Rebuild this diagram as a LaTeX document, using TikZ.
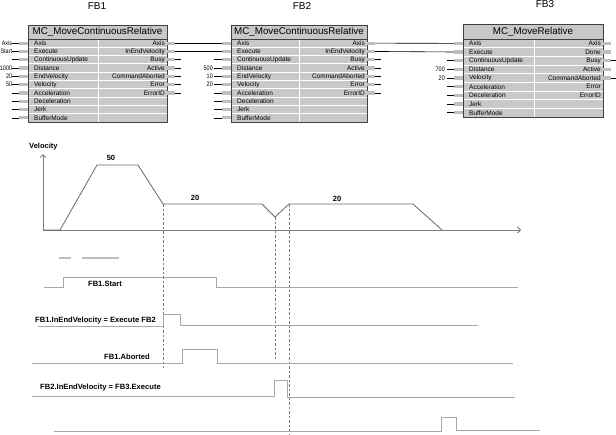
\documentclass[tikz,border=0pt]{standalone}
\usepackage{fontspec}
\setmainfont{Liberation Sans}
\newfontfamily\condfont[FakeStretch=0.84]{Liberation Sans}
\usetikzlibrary{arrows.meta}
\definecolor{cellgray}{HTML}{C8C8C8}
\definecolor{pingray}{HTML}{BEBEBE}
\definecolor{boxline}{HTML}{404040}
\definecolor{siggray}{HTML}{A8A8A8}
\definecolor{axisgray}{HTML}{7A7A7A}
\definecolor{profgray}{HTML}{686868}
\tikzset{
  rowtxt/.style={font=\fontsize{6.5}{7}\selectfont, inner sep=0pt},
  valtxt/.style={font=\condfont\fontsize{6.5}{7}\selectfont, inner sep=0pt, anchor=east},
  fbtitle/.style={font=\fontsize{9.8}{11}\selectfont, inner sep=0pt},
  fblbl/.style={font=\fontsize{10}{12}\selectfont, inner sep=0pt},
  conn/.style={draw=black, line width=0.6pt},
  stub/.style={draw=black, line width=0.6pt},
  sig/.style={draw=siggray, line width=0.9pt},
  siglbl/.style={font=\bfseries\fontsize{7.6}{9}\selectfont, inner sep=0pt},
  axisln/.style={draw=axisgray, line width=0.8pt, -{Straight Barb[length=3pt,width=6pt]}},
  prof/.style={draw=profgray, line width=0.8pt},
  guide/.style={draw=axisgray, line width=0.6pt, dash pattern=on 2.5pt off 2pt},
  vlbl/.style={font=\bfseries\fontsize{7.5}{9}\selectfont, inner sep=0pt}
}
\newcommand{\fbbox}[7]{%
  \pgfmathsetmacro{\fbbot}{39+#7*#6}%
  \fill[cellgray] (#2,#5) rectangle (#3,\fbbot);
  \pgfmathtruncatemacro{\fblast}{#7-1}%
  \foreach \k in {1,...,\fblast} {\draw[white,line width=0.9pt] (#2,{39+\k*#6}) -- (#3,{39+\k*#6});}
  \draw[white,line width=0.9pt] (#4,39.5) -- (#4,\fbbot);
  \draw[boxline,line width=0.7pt] (#2,39) -- (#3,39);
  \draw[boxline,line width=0.8pt] (#2,#5) rectangle (#3,\fbbot);
}
\newcommand{\fbin}[4]{%
  \foreach \lab [count=\i] in {#4} {
    \pgfmathsetmacro{\yy}{39+(\i-0.5)*#3}
    \node[rowtxt,anchor=west] (#1in\i) at (#2+6,\yy) {\lab};
    \fill[pingray] (#2-9,\yy-1.6) rectangle (#2,\yy+1.6);
    \coordinate (#1pi\i) at (#2-9,\yy);
  }
}
\newcommand{\fbout}[5]{%
  \foreach \lab [count=\i] in {#4} {
    \pgfmathsetmacro{\yy}{39+(\i-0.5)*#3}
    \node[rowtxt,anchor=east] (#1out\i) at (#2-2,\yy) {\lab};
    \ifnum\i>#5\relax\else
      \fill[pingray] (#2,\yy-1.6) rectangle (#2+8,\yy+1.6);
      \coordinate (#1po\i) at (#2+8,\yy);
    \fi
  }
}
\begin{document}
\begin{tikzpicture}[x=1pt,y=-1pt]
\useasboundingbox (0,0) rectangle (616,434);

% ---------- FB1 ----------
\node[fblbl] (fb1name) at (97,6) {FB1};
\fbbox{fb1}{28}{167}{98}{25}{8.3}{10}
\node[fbtitle] (fb1title) at (97.5,32.2) {MC\_MoveContinuousRelative};
\fbin{fb1}{28}{8.3}{Axis,Execute,ContinuousUpdate,Distance,EndVelocity,Velocity,Acceleration,Deceleration,Jerk,BufferMode}
\fbout{fb1}{167}{8.3}{Axis,InEndVelocity,Busy,Active,CommandAborted,Error,ErrorID}{7}
\foreach \i in {1,...,10} {\draw[stub] (fb1pi\i) -- ++(-7,0);}
\foreach \i/\v in {1/Axis,2/Start,4/1000,5/20,6/50} {\node[valtxt] (fb1v\i) at ([xshift=-6.7pt]fb1pi\i) {\v};}
\foreach \i in {3,...,7} {\draw[stub] (fb1po\i) -- ++(6,0);}

% ---------- FB2 ----------
\node[fblbl] (fb2name) at (302,6) {FB2};
\fbbox{fb2}{231}{367}{299}{25}{8.3}{10}
\node[fbtitle] (fb2title) at (299,32.2) {MC\_MoveContinuousRelative};
\fbin{fb2}{231}{8.3}{Axis,Execute,ContinuousUpdate,Distance,EndVelocity,Velocity,Acceleration,Deceleration,Jerk,BufferMode}
\fbout{fb2}{367}{8.3}{Axis,InEndVelocity,Busy,Active,CommandAborted,Error,ErrorID}{7}
\foreach \i in {3,...,10} {\draw[stub] (fb2pi\i) -- ++(-8,0);}
\foreach \i/\v in {4/500,5/10,6/20} {\node[valtxt] (fb2v\i) at ([xshift=-9pt]fb2pi\i) {\v};}
\foreach \i in {3,...,7} {\draw[stub] (fb2po\i) -- ++(6,0);}

% ---------- FB3 ----------
\node[fblbl] (fb3name) at (545,4) {FB3};
\fbbox{fb3}{463}{603}{534}{24}{8.67}{9}
\node[fbtitle] (fb3title) at (533,32) {MC\_MoveRelative};
\fbin{fb3}{463}{8.67}{Axis,Execute,ContinuousUpdate,Distance,Velocity,Acceleration,Deceleration,Jerk,BufferMode}
\fbout{fb3}{603}{8.67}{Axis,Done,Busy,Active,CommandAborted,Error,ErrorID}{5}
\foreach \i in {3,...,9} {\draw[stub] (fb3pi\i) -- ++(-7,0);}
\foreach \i/\v in {4/700,5/20} {\node[valtxt] (fb3v\i) at ([xshift=-9pt]fb3pi\i) {\v};}
\foreach \i in {3,5} {\draw[stub] (fb3po\i) -- ++(6,0);}

% ---------- connections ----------
\draw[conn] (fb1po1) -- (fb2pi1);
\draw[conn] (fb1po2) -- (fb2pi2);
\draw[conn] (fb2po1) -- (fb3pi1);
\draw[conn] (fb2po2) -- (fb3pi2);

% ---------- velocity chart ----------
\coordinate (orig) at (43,230);
\coordinate (vtop) at (43,154);
\coordinate (tend) at (521,230);
\draw[axisln] (orig) -- (vtop);
\draw[axisln] (orig) -- (tend);
\node[vlbl, anchor=west] (vel) at (29,147) {Velocity};
\draw[prof] (43,230) -- (60,230) -- (97,165) -- (138,165) -- (163,204) -- (262,204) -- (275,217) -- (289,204) -- (413,204) -- (442,230);
\node[vlbl] (v50) at (111,158) {50};
\node[vlbl] (v20a) at (195,198) {20};
\node[vlbl] (v20b) at (337,199) {20};

\draw[guide] (163,204) -- (163,368);
\draw[guide] (275,217) -- (275,360);
\draw[guide] (289,204) -- (289,434);

% ---------- timing ----------
\draw[draw=pingray, line width=1.4pt] (59,258) -- (71,258);
\draw[draw=pingray, line width=1.4pt] (82,258) -- (119,258);

\draw[sig] (44,287) -- (63,287) -- (63,277) -- (216,277) -- (216,287) -- (518,287);
\node[siglbl] (lstart) at (105,283.5) {FB1.Start};

\draw[sig] (38,326) -- (163,326) -- (163,314) -- (180,314) -- (180,325) -- (478,325);
\node[siglbl] (linend1) at (95.5,321) {FB1.InEndVelocity = Execute FB2};

\draw[sig] (32,363) -- (182,363) -- (182,349) -- (217,349) -- (217,363) -- (513,363);
\node[siglbl] (labort) at (127,357) {FB1.Aborted};

\draw[sig] (32,396) -- (274,396) -- (274,380) -- (287,380) -- (287,397) -- (515,397);
\node[siglbl] (linend2) at (100.5,388) {FB2.InEndVelocity = FB3.Execute};

\draw[sig] (54,431) -- (441,431) -- (441,417) -- (456,417) -- (456,430) -- (540,430);
\end{tikzpicture}
\end{document}
